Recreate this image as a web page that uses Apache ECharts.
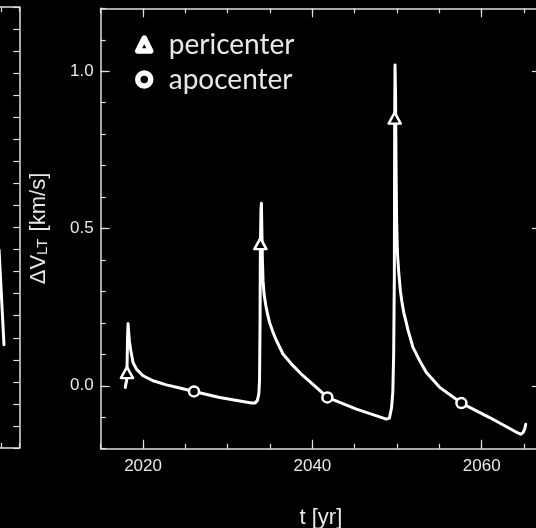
<!DOCTYPE html>
<html>
<head>
<meta charset="utf-8">
<script src="https://cdn.jsdelivr.net/npm/echarts@6/dist/echarts.min.js"></script>
<style>html,body{margin:0;padding:0;background:#000;}#c{width:536px;height:528px;}</style>
</head>
<body>
<div id="c"></div>
<script>
// ---- data ----
const curveYears = [2017.9,2018.05,2018.08,2018.1,2018.17,2018.23,2018.3,2018.4,2018.55,2018.82,2019.22,2020.0,2021.18,2022.76,2024.33,2026.02,2029.06,2032.8,2033.2,2033.5,2033.68,2033.76,2033.82,2033.86,2033.93,2033.98,2034.03,2034.1,2034.17,2034.3,2034.5,2034.75,2034.96,2035.35,2035.75,2036.53,2037.71,2038.89,2040.47,2041.77,2045.2,2048.74,2049.1,2049.35,2049.5,2049.6,2049.68,2049.72,2049.76,2049.82,2049.88,2049.95,2050.05,2050.2,2050.4,2050.6,2050.8,2051.0,2051.29,2051.88,2052.67,2053.46,2055.03,2057.6,2060.93,2064.27,2064.6,2064.9,2065.1,2065.2];
const curveValues = [-0.005,-0.002,0.02,0.042,0.15,0.197,0.17,0.14,0.112,0.074,0.053,0.032,0.016,0.003,-0.007,-0.018,-0.037,-0.055,-0.055,-0.047,-0.025,0.02,0.2,0.452,0.56,0.58,0.5,0.4,0.335,0.29,0.255,0.222,0.2,0.17,0.144,0.101,0.064,0.032,-0.005,-0.037,-0.074,-0.106,-0.103,-0.07,-0.02,0.1,0.35,0.851,1.02,0.93,0.7,0.52,0.42,0.36,0.3,0.262,0.232,0.21,0.178,0.122,0.08,0.042,-0.005,-0.055,-0.101,-0.150,-0.154,-0.148,-0.135,-0.122];
const periYears = [2018.1, 2033.86, 2049.72];
const periValues = [0.042, 0.452, 0.851];
const apoYears = [2026.02, 2041.77, 2057.6];
const apoValues = [-0.018, -0.037, -0.055];
const leftPanelX = [8.85, 9.13];
const leftPanelY = [8.98, 4.68];
const xTickLabels = [2020, 2040, 2060];
const yTickLabels = [0.0, 0.5, 1.0];
const legendNames = ['pericenter', 'apocenter'];

const zip = (a, b) => a.map((v, i) => [v, b[i]]);

const AX = '#e0e0e0';
const LBL = '#e8e8e8';
const G = {left: 100.7, top: 8.3, width: 440.3, height: 440.4, containLabel: false, outerBoundsMode: 'none'};

const chart = echarts.init(document.getElementById('c'), null, {renderer: 'canvas'});

function minorX(pos) {
  return {gridIndex: 0, type: 'value', position: pos, min: 2015, max: 2067, interval: 5,
    axisLine: {show: true, onZero: false, lineStyle: {color: AX, width: 1.5}},
    axisTick: {show: true, inside: true, length: 5, lineStyle: {color: AX, width: 1.2}},
    axisLabel: {show: false}, splitLine: {show: false}};
}
function minorY(pos) {
  return {gridIndex: 0, type: 'value', position: pos, min: -0.2, max: 1.2, interval: 0.1,
    axisLine: {show: true, onZero: false, lineStyle: {color: AX, width: 1.5}},
    axisTick: {show: true, inside: true, length: 5, lineStyle: {color: AX, width: 1.2}},
    axisLabel: {show: false}, splitLine: {show: false}};
}
function majorX(pos, labels) {
  return {gridIndex: 2, type: 'value', position: pos, min: 2015, max: 2067,
    axisLine: {show: false, onZero: false},
    axisTick: {show: true, inside: true, length: 9, customValues: xTickLabels, lineStyle: {color: AX, width: 1.2}},
    axisLabel: labels ? {show: true, customValues: xTickLabels, color: LBL, fontFamily: 'Liberation Sans', fontSize: 17, margin: 9,
      formatter: v => String(v)} : {show: false},
    splitLine: {show: false},
    name: labels ? 't [yr]' : '', nameLocation: 'middle', nameGap: 58,
    nameTextStyle: {color: LBL, fontFamily: 'Liberation Sans', fontSize: 22}};
}
function majorY(pos, labels) {
  return {gridIndex: 2, type: 'value', position: pos, min: -0.2, max: 1.2,
    axisLine: {show: false, onZero: false},
    axisTick: {show: true, inside: true, length: 9, customValues: yTickLabels, lineStyle: {color: AX, width: 1.2}},
    axisLabel: labels ? {show: true, customValues: yTickLabels, color: LBL, fontFamily: 'Liberation Sans', fontSize: 17, margin: 7,
      formatter: v => Number(v).toFixed(1)} : {show: false},
    splitLine: {show: false},
    name: labels ? '{a|ΔV}{s|LT}{a| [km/s]}' : '', nameLocation: 'middle', nameGap: 50,
    nameTextStyle: {color: LBL, fontFamily: 'Liberation Sans', fontSize: 22,
      rich: {a: {fontSize: 22, color: LBL, fontFamily: 'Liberation Sans'},
             s: {fontSize: 15, color: LBL, fontFamily: 'Liberation Sans', padding: [9, 1, 0, 0]}}}};
}

const option = {
  backgroundColor: '#000',
  animation: false,
  grid: [
    Object.assign({}, G),
    {left: -156.7, top: 7, width: 176, height: 441, containLabel: false, outerBoundsMode: 'none'},
    Object.assign({}, G)
  ],
  xAxis: [
    minorX('bottom'), minorX('top'),
    {gridIndex: 1, type: 'value', position: 'bottom', min: 0, max: 10, interval: 1,
      axisLine: {show: true, onZero: false, lineStyle: {color: AX, width: 1.5}},
      axisTick: {show: true, inside: true, length: 5, lineStyle: {color: AX, width: 1.2}},
      axisLabel: {show: false}, splitLine: {show: false}},
    {gridIndex: 1, type: 'value', position: 'top', min: 0, max: 10, interval: 1,
      axisLine: {show: true, onZero: false, lineStyle: {color: AX, width: 1.5}},
      axisTick: {show: true, inside: true, length: 5, lineStyle: {color: AX, width: 1.2}},
      axisLabel: {show: false}, splitLine: {show: false}},
    majorX('bottom', true), majorX('top', false)
  ],
  yAxis: [
    minorY('left'), minorY('right'),
    {gridIndex: 1, type: 'value', position: 'right', min: 0, max: 20, interval: 1,
      axisLine: {show: true, onZero: false, lineStyle: {color: AX, width: 1.5}},
      axisTick: {show: true, inside: true, length: 6, lineStyle: {color: AX, width: 1.2}},
      axisLabel: {show: false}, splitLine: {show: false}},
    majorY('left', true), majorY('right', false)
  ],
  legend: {
    orient: 'vertical', left: 135, top: 29, padding: 0, itemWidth: 13, itemHeight: 13, itemGap: 4,
    textStyle: {color: LBL, fontFamily: 'Lato', fontSize: 28, lineHeight: 31, padding: [0, 0, 0, 13]},
    data: [
      {name: legendNames[0], icon: 'triangle', itemStyle: {color: '#000', borderColor: '#fff', borderWidth: 5.5, borderJoin: 'round'}},
      {name: legendNames[1], icon: 'circle', itemStyle: {color: '#000', borderColor: '#fff', borderWidth: 5.5}}
    ]
  },
  series: [
    {type: 'line', xAxisIndex: 0, yAxisIndex: 0, data: zip(curveYears, curveValues), showSymbol: false, symbol: 'none',
      lineStyle: {color: '#fff', width: 3, cap: 'round', join: 'round'}, z: 2, silent: true},
    {type: 'line', xAxisIndex: 2, yAxisIndex: 2, data: zip(leftPanelX, leftPanelY), showSymbol: false, symbol: 'none',
      lineStyle: {color: '#fff', width: 3, cap: 'round'}, clip: true},
    {type: 'scatter', name: legendNames[0], xAxisIndex: 0, yAxisIndex: 0, data: zip(periYears, periValues),
      symbol: 'triangle', symbolSize: [12, 11], itemStyle: {color: '#000', borderColor: '#fff', borderWidth: 2.5, borderJoin: 'round', opacity: 1}, z: 5},
    {type: 'scatter', name: legendNames[1], xAxisIndex: 0, yAxisIndex: 0, data: zip(apoYears, apoValues),
      symbol: 'circle', symbolSize: 10, itemStyle: {color: '#000', borderColor: '#fff', borderWidth: 2.5, opacity: 1}, z: 5}
  ]
};
chart.setOption(option);
</script>
</body>
</html>
